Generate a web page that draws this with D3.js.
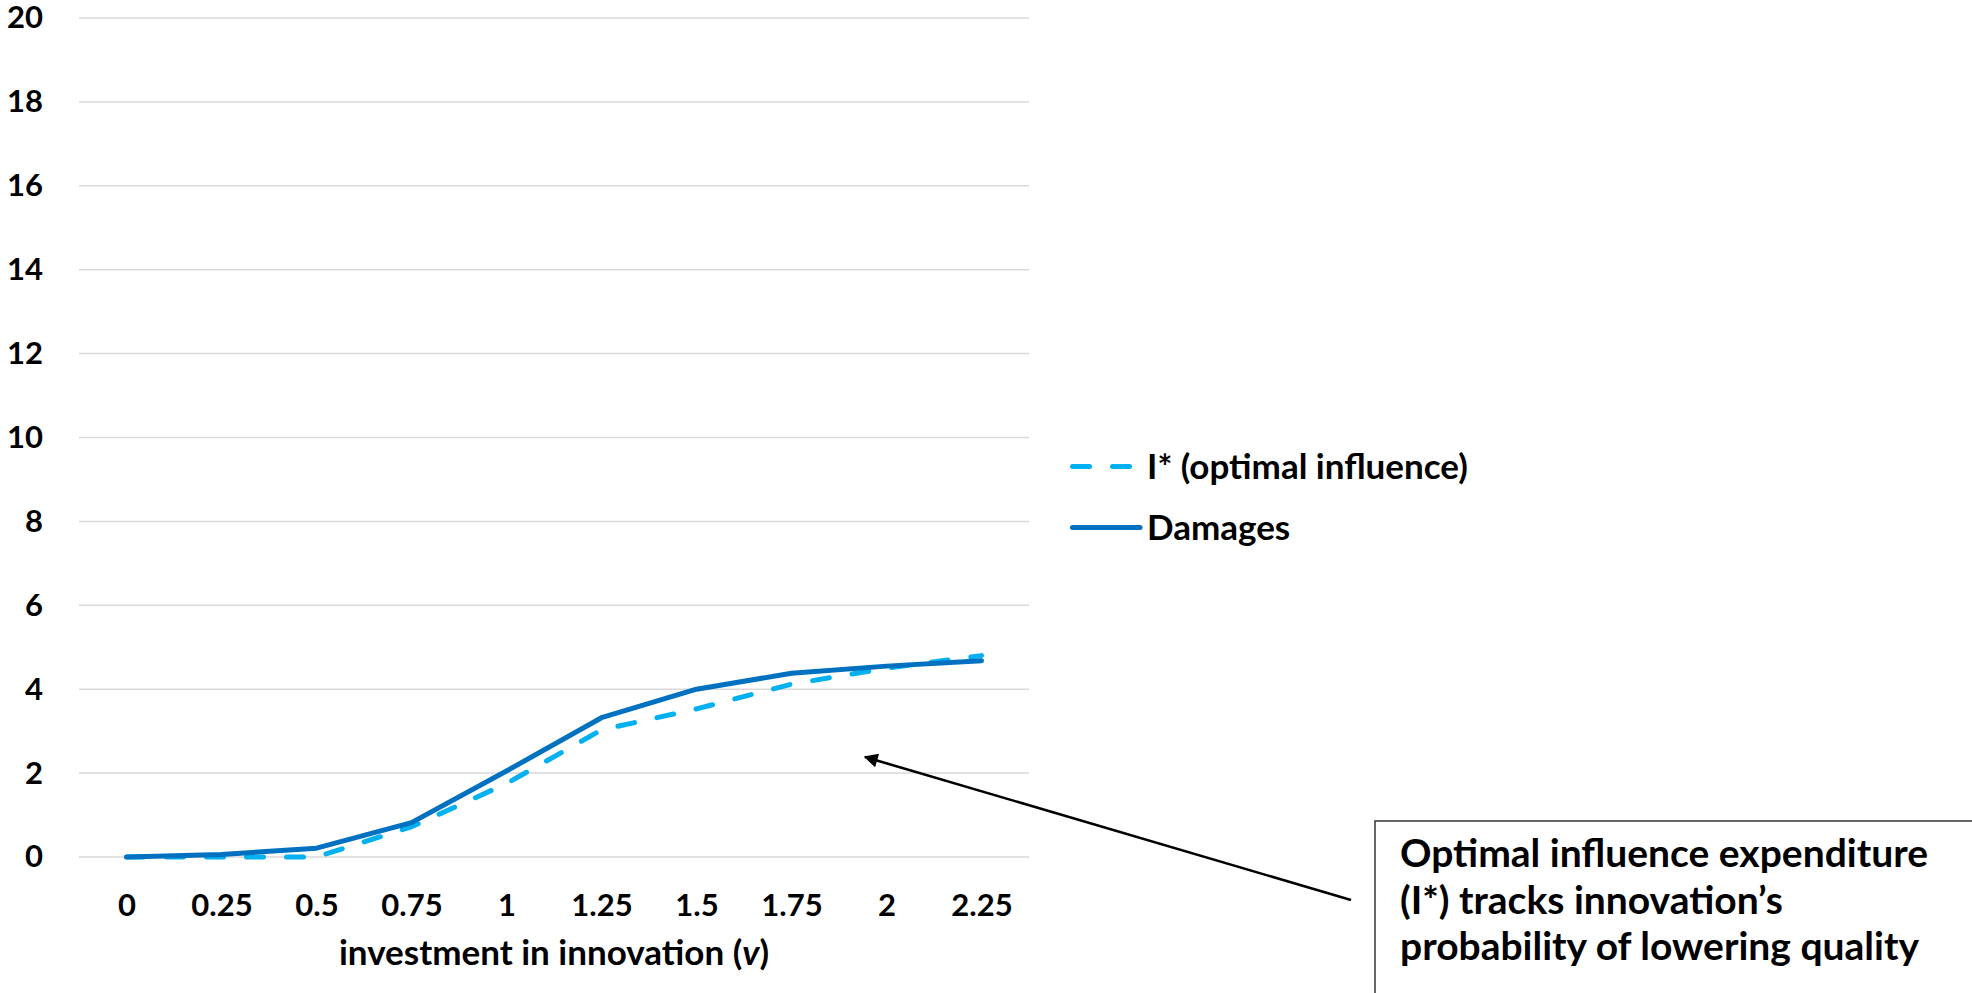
<!DOCTYPE html>
<html>
<head>
<meta charset="utf-8">
<script src="https://cdn.jsdelivr.net/npm/d3@7/dist/d3.min.js"></script>
<style>
  html, body { margin: 0; padding: 0; background: #ffffff; }
  svg { display: block; }
  text { font-family: "Lato", "Open Sans", sans-serif; font-weight: 700; fill: #000; }
</style>
</head>
<body>
<svg id="chart" width="1972" height="993"></svg>
<script>
// Investment in innovation (v)
const investment = ["0", "0.25", "0.5", "0.75", "1", "1.25", "1.5", "1.75", "2", "2.25"];
// Optimal influence expenditure I*
const optimalInfluence = [0, 0, 0, 0.72, 1.75, 3.03, 3.53, 4.12, 4.5, 4.8];
// Expected damages
const damages = [0, 0.06, 0.21, 0.82, 2.05, 3.32, 4.0, 4.38, 4.55, 4.68];
// Value axis ticks
const yTicks = [0, 2, 4, 6, 8, 10, 12, 14, 16, 18, 20];

const seriesNames = ["I* (optimal influence)", "Damages"];
const noteLines = [
  "Optimal influence expenditure",
  "(I*) tracks innovation\u2019s",
  "probability of lowering quality"
];

const svg = d3.select("#chart");

const plot = { left: 79, right: 1029, top: 18, bottom: 857 };

const x = d3.scalePoint()
  .domain(investment)
  .range([plot.left, plot.right])
  .padding(0.5);

const y = d3.scaleLinear()
  .domain([0, 20])
  .range([plot.bottom, plot.top]);

// Horizontal gridlines
svg.append("g")
  .selectAll("line")
  .data(yTicks)
  .join("line")
  .attr("x1", plot.left)
  .attr("x2", plot.right)
  .attr("y1", d => y(d))
  .attr("y2", d => y(d))
  .attr("stroke", "#d9d9d9")
  .attr("stroke-width", 1.5);

// Y axis labels
const yAxis = svg.append("g")
  .attr("transform", `translate(${plot.left - 36},0)`)
  .call(d3.axisLeft(y).tickValues(yTicks).tickSize(0).tickPadding(0));
yAxis.select(".domain").remove();
yAxis.selectAll("text")
  .attr("font-size", 31)
  .attr("font-family", "Lato, sans-serif")
  .attr("font-weight", 700)
  .attr("fill", "#000");

// X axis labels
const xAxis = svg.append("g")
  .attr("transform", `translate(0,${plot.bottom + 37})`)
  .call(d3.axisBottom(x).tickSize(0).tickPadding(0));
xAxis.select(".domain").remove();
xAxis.selectAll("text")
  .attr("font-size", 31)
  .attr("font-family", "Lato, sans-serif")
  .attr("font-weight", 700)
  .attr("fill", "#000");

// X axis title
const title = svg.append("text")
  .attr("x", 554)
  .attr("y", 965)
  .attr("text-anchor", "middle")
  .attr("font-size", 35);
title.append("tspan").text("investment in innovation (");
title.append("tspan").attr("font-style", "italic").text("v");
title.append("tspan").text(")");

const line = d3.line()
  .x((d, i) => x(investment[i]))
  .y(d => y(d));

// I* dashed series
svg.append("path")
  .datum(optimalInfluence)
  .attr("d", line)
  .attr("fill", "none")
  .attr("stroke", "#00b0f0")
  .attr("stroke-width", 5)
  .attr("stroke-linecap", "round")
  .attr("stroke-linejoin", "round")
  .attr("stroke-dasharray", "17,23");

// Damages solid series
svg.append("path")
  .datum(damages)
  .attr("d", line)
  .attr("fill", "none")
  .attr("stroke", "#0070c0")
  .attr("stroke-width", 5)
  .attr("stroke-linecap", "round")
  .attr("stroke-linejoin", "round");

// Legend
const legend = svg.append("g");
const legendRows = [
  { name: seriesNames[0], color: "#00b0f0", dash: "17,23", cy: 466.5 },
  { name: seriesNames[1], color: "#0070c0", dash: null, cy: 527.5 }
];
legendRows.forEach(r => {
  legend.append("line")
    .attr("x1", 1072.5).attr("x2", 1140)
    .attr("y1", r.cy).attr("y2", r.cy)
    .attr("stroke", r.color)
    .attr("stroke-width", 5)
    .attr("stroke-linecap", "round")
    .attr("stroke-dasharray", r.dash);
  legend.append("text")
    .attr("x", 1147)
    .attr("y", r.cy + 12.5)
    .attr("font-size", 35)
    .text(r.name);
});

// Annotation box
svg.append("rect")
  .attr("x", 1375)
  .attr("y", 821)
  .attr("width", 700)
  .attr("height", 300)
  .attr("fill", "#fff")
  .attr("stroke", "#333")
  .attr("stroke-width", 1.5);

const note = svg.append("text")
  .attr("x", 1400)
  .attr("y", 867)
  .attr("font-size", 39);
noteLines.forEach((t, i) => {
  note.append("tspan")
    .attr("x", 1400)
    .attr("dy", i === 0 ? 0 : 46.5)
    .text(t);
});

// Arrow pointing at the curves
svg.append("defs").append("marker")
  .attr("id", "arrowhead")
  .attr("viewBox", "0 0 10 10")
  .attr("refX", 9)
  .attr("refY", 5)
  .attr("markerUnits", "userSpaceOnUse")
  .attr("markerWidth", 18)
  .attr("markerHeight", 14)
  .attr("orient", "auto")
  .append("path")
  .attr("d", "M0,0 L10,5 L0,10 Z")
  .attr("fill", "#000");

svg.append("line")
  .attr("x1", 1351).attr("y1", 900)
  .attr("x2", 865).attr("y2", 757)
  .attr("stroke", "#000")
  .attr("stroke-width", 2.6)
  .attr("marker-end", "url(#arrowhead)");
</script>
</body>
</html>
